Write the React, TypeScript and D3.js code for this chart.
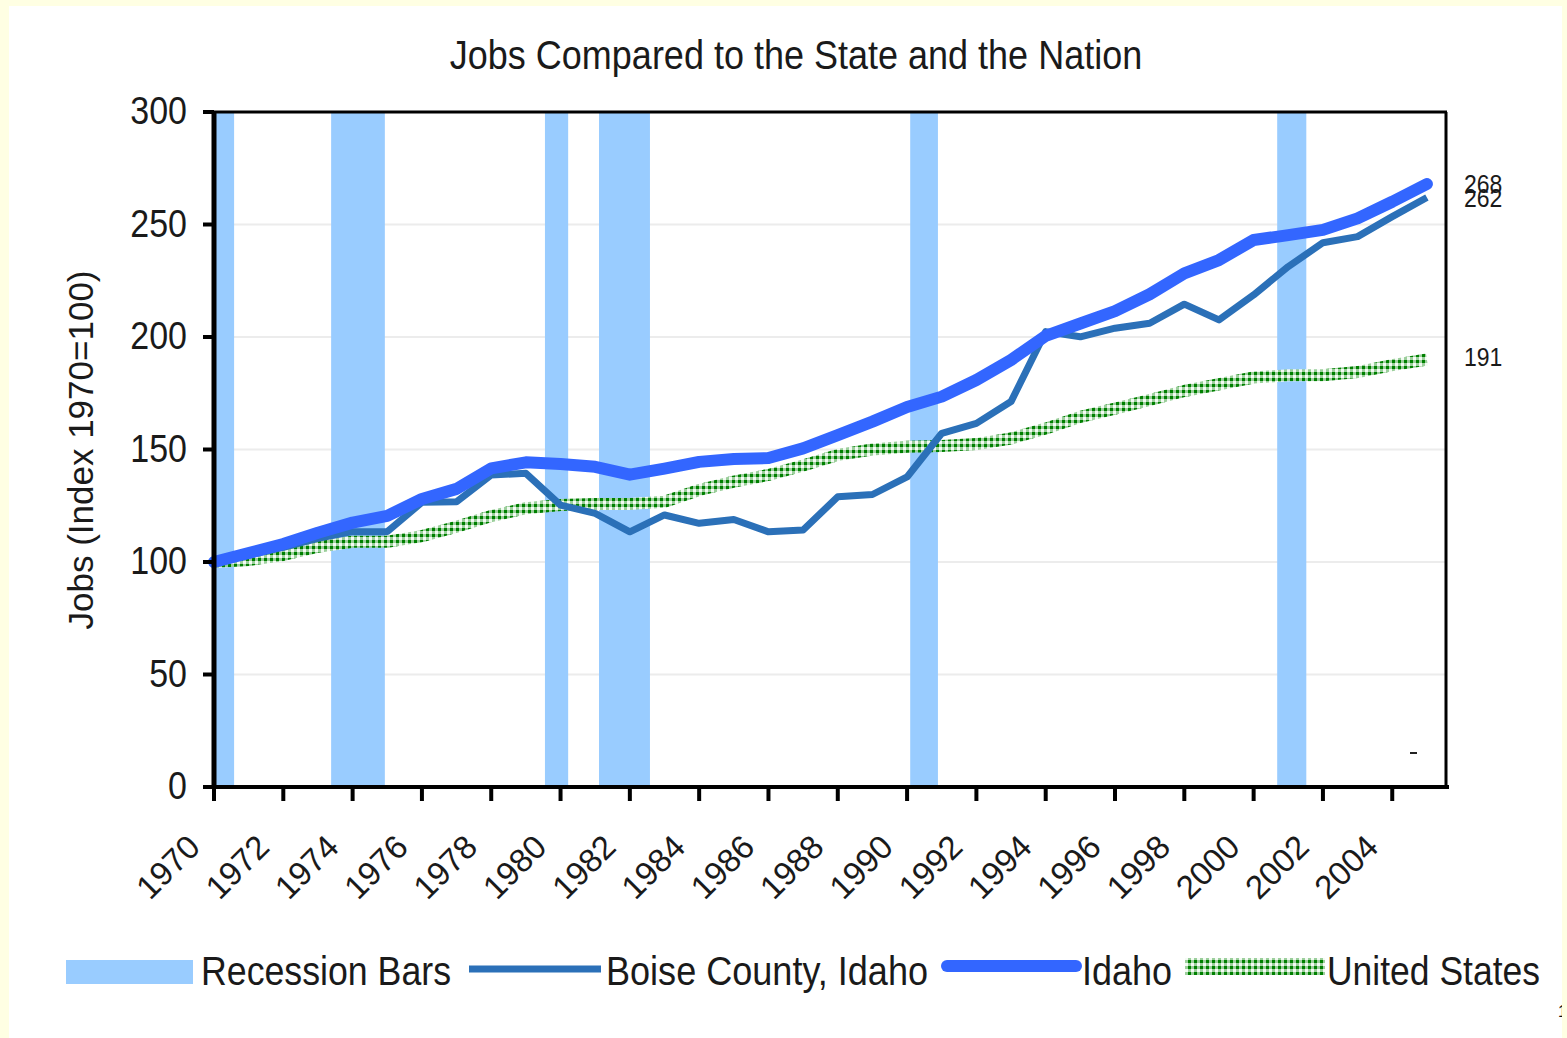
import React from "react";
import * as d3 from "d3";

const years = [1970, 1971, 1972, 1973, 1974, 1975, 1976, 1977, 1978, 1979, 1980, 1981, 1982, 1983, 1984, 1985, 1986, 1987, 1988, 1989, 1990, 1991, 1992, 1993, 1994, 1995, 1996, 1997, 1998, 1999, 2000, 2001, 2002, 2003, 2004, 2005];

const idaho = [100, 104, 108, 113, 117.5, 120.5, 128, 132.5, 141.6, 144.3, 143.6, 142.3, 138.8, 141.5, 144.5, 145.8, 146.2, 150.5, 156.4, 162.4, 168.9, 173.5, 180.9, 189.8, 200.5, 206, 211.5, 219, 228.3, 234.2, 243.1, 245.3, 247.6, 252.7, 260.1, 268];

const boise = [100, 103, 106.5, 110.5, 113.5, 113.5, 126.5, 126.8, 138.7, 139.4, 125.3, 121.6, 113.4, 120.9, 117.2, 118.9, 113.4, 114.2, 129, 130, 137.8, 157.2, 161.6, 171.3, 202.4, 200.1, 203.9, 206.1, 214.6, 207.6, 218.7, 231.3, 241.9, 244.6, 253.5, 262];

const us = [100, 100.9, 103.1, 106.8, 109, 109, 111.5, 115.7, 120.4, 123.9, 125.3, 125.8, 125.8, 126.8, 132, 135.7, 138.7, 142.9, 147.6, 150, 151.2, 151.6, 152.4, 154.9, 159.3, 164.5, 168.2, 172, 176, 179, 182, 183, 183, 184.4, 187.5, 190];

const recessions: [number, number][] = [
  [1970, 1970.58],
  [1973.38, 1974.93],
  [1979.55, 1980.22],
  [1981.11, 1982.58],
  [1990.09, 1990.89],
  [2000.68, 2001.52],
];

const xTickYears = [1970, 1972, 1974, 1976, 1978, 1980, 1982, 1984, 1986, 1988, 1990, 1992, 1994, 1996, 1998, 2000, 2002, 2004];
const yTicks = [0, 50, 100, 150, 200, 250, 300];
const gridValues = [50, 100, 150, 200, 250];

const endLabels = [
  { text: "268", value: 268 },
  { text: "262", value: 262 },
  { text: "191", value: 191 },
];

const legendItems = ["Recession Bars", "Boise County, Idaho", "Idaho", "United States"];

const FONT = "'Liberation Sans', Arial, Helvetica, sans-serif";
const K = 1.12;

const PLOT = { left: 214, right: 1447, top: 112, bottom: 787 };

const xScale = d3.scaleLinear().domain([1970, 2005.58]).range([PLOT.left, PLOT.right]);
const yScale = d3.scaleLinear().domain([0, 300]).range([PLOT.bottom, PLOT.top]);

function SText(props: {
  x: number;
  y: number;
  size: number;
  anchor?: "start" | "middle" | "end";
  k?: number;
  len?: number;
  children: React.ReactNode;
}) {
  const { x, y, size, anchor = "start", k = K, len, children } = props;
  return (
    <text
      transform={`translate(${x},${y}) scale(1,${k})`}
      fontSize={size}
      fontFamily={FONT}
      textAnchor={anchor}
      fill="#1a1a1a"
      {...(len ? { textLength: len, lengthAdjust: "spacingAndGlyphs" } : {})}
    >
      {children}
    </text>
  );
}

export default function App() {
  const line = d3
    .line<number>()
    .x((_, i) => xScale(years[i]))
    .y((d) => yScale(d))
    .curve(d3.curveLinear);

  return (
    <div style={{ position: "fixed", left: 0, top: 0, width: 1567, height: 1038 }}>
      <svg width={1567} height={1038} style={{ display: "block" }}>
        <defs>
          <pattern id="checker" patternUnits="userSpaceOnUse" width={6} height={6}>
            <rect x={0} y={0} width={6} height={6} fill="#9ccf9c" />
            <rect x={0} y={0} width={3} height={3} fill="#008000" />
            <rect x={3} y={3} width={3} height={3} fill="#f4fbf4" />
          </pattern>
        </defs>

        {/* outer background */}
        <rect x={0} y={0} width={1567} height={1038} fill="#ffffe3" />
        <rect x={9} y={6} width={1553} height={1032} fill="#ffffff" />

        {/* title */}
        <SText x={796} y={69} size={36} anchor="middle">
          Jobs Compared to the State and the Nation
        </SText>

        {/* gridlines */}
        {gridValues.map((v) => (
          <line
            key={"g" + v}
            x1={PLOT.left}
            x2={PLOT.right}
            y1={yScale(v)}
            y2={yScale(v)}
            stroke="#ececec"
            strokeWidth={2}
          />
        ))}

        {/* recession bars */}
        {recessions.map(([a, b], i) => (
          <rect
            key={"r" + i}
            x={xScale(a)}
            y={PLOT.top}
            width={xScale(b) - xScale(a)}
            height={PLOT.bottom - PLOT.top}
            fill="#99ccff"
          />
        ))}

        {/* series */}
        <path d={line(us) || ""} fill="none" stroke="url(#checker)" strokeWidth={12} strokeLinejoin="round" />
        <path d={line(boise) || ""} fill="none" stroke="#2b70b8" strokeWidth={7} strokeLinejoin="round" />
        <path d={line(idaho) || ""} fill="none" stroke="#3366ff" strokeWidth={12} strokeLinejoin="round" strokeLinecap="round" />

        {/* plot border top/right */}
        <line x1={PLOT.left} x2={PLOT.right} y1={PLOT.top} y2={PLOT.top} stroke="#000" strokeWidth={3} />
        <line x1={PLOT.right - 1} x2={PLOT.right - 1} y1={PLOT.top} y2={PLOT.bottom} stroke="#000" strokeWidth={3} />

        {/* y axis */}
        <line x1={PLOT.left} x2={PLOT.left} y1={PLOT.top - 1} y2={PLOT.bottom + 2} stroke="#000" strokeWidth={5} />
        {yTicks.map((v) => (
          <g key={"yt" + v}>
            <line x1={203} x2={PLOT.left} y1={yScale(v)} y2={yScale(v)} stroke="#000" strokeWidth={4} />
            <SText x={187} y={yScale(v) + 12} size={34} anchor="end">
              {v}
            </SText>
          </g>
        ))}

        {/* x axis */}
        <line x1={203} x2={PLOT.right + 2} y1={PLOT.bottom} y2={PLOT.bottom} stroke="#000" strokeWidth={4} />
        {xTickYears.map((yr) => (
          <g key={"xt" + yr}>
            <line x1={xScale(yr)} x2={xScale(yr)} y1={PLOT.bottom} y2={801} stroke="#000" strokeWidth={4} />
            <text
              transform={`translate(${xScale(yr) - 12},849) rotate(-45)`}
              fontSize={33}
              fontFamily={FONT}
              textAnchor="end"
              fill="#1a1a1a"
            >
              {yr}
            </text>
          </g>
        ))}

        {/* y axis title */}
        <text
          transform="translate(93,450) rotate(-90)"
          fontSize={35}
          fontFamily={FONT}
          textAnchor="middle"
          fill="#1a1a1a"
        >
          Jobs (Index 1970=100)
        </text>

        {/* end labels */}
        {endLabels.map((l) => (
          <SText key={l.text} x={1464} y={yScale(l.value) + 9} size={23} k={1.1}>
            {l.text}
          </SText>
        ))}

        {/* small dash */}
        <line x1={1410} x2={1417} y1={753} y2={753} stroke="#222" strokeWidth={2} />

        {/* legend */}
        <rect x={66} y={960} width={127} height={24} fill="#99ccff" />
        <SText x={201} y={985} size={35.5} len={250}>
          {legendItems[0]}
        </SText>

        <line x1={469} x2={601} y1={969} y2={969} stroke="#2b70b8" strokeWidth={7} />
        <SText x={606} y={985} size={35.5} len={322}>
          {legendItems[1]}
        </SText>

        <line x1={947} x2={1076} y1={966} y2={966} stroke="#3366ff" strokeWidth={12} strokeLinecap="round" />
        <SText x={1082} y={985} size={35.5} len={90}>
          {legendItems[2]}
        </SText>

        <rect x={1185} y={958} width={140} height={17} fill="url(#checker)" />
        <SText x={1327} y={985} size={35.5} len={213}>
          {legendItems[3]}
        </SText>

        {/* right yellow strip mark */}
        <text x={1558} y={1017} fontSize={16} fontFamily={FONT} fill="#111">
          1
        </text>
        <rect x={1562} y={0} width={5} height={1038} fill="#ffffe3" />
      </svg>
    </div>
  );
}
